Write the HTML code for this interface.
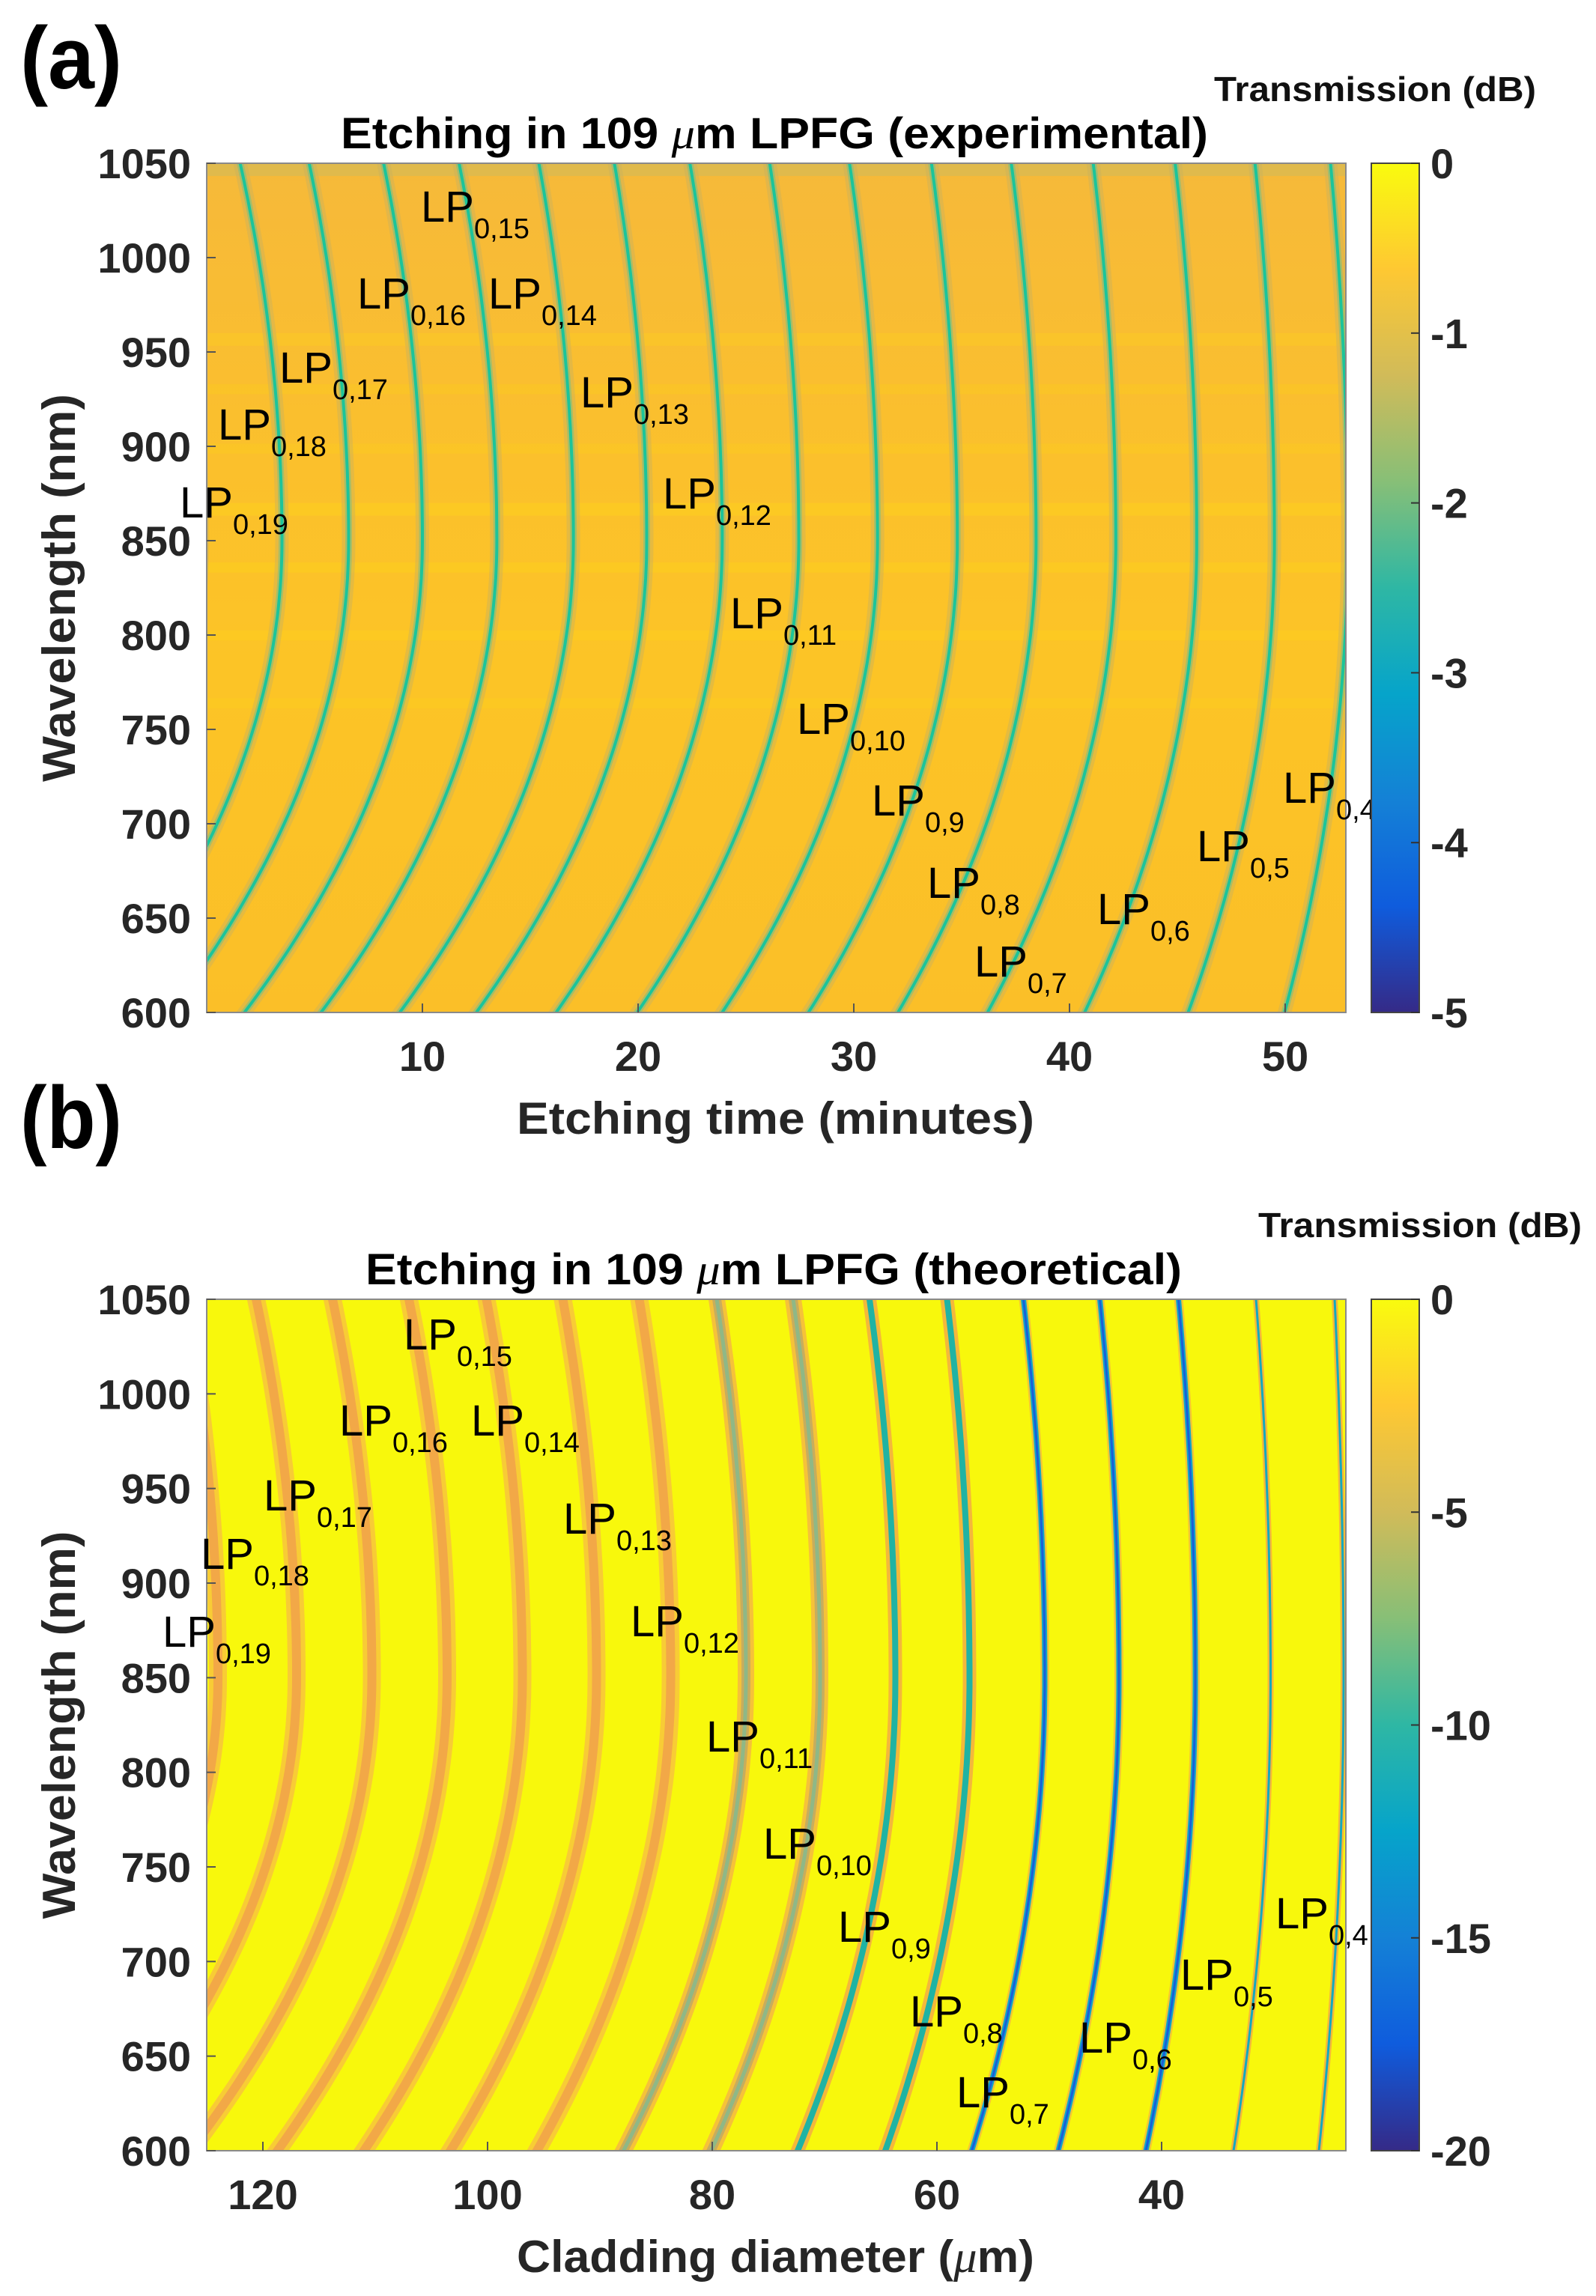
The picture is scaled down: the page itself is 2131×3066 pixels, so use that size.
<!DOCTYPE html>
<html><head><meta charset="utf-8">
<style>
html,body{margin:0;padding:0;background:#fff;}
svg{display:block;font-family:"Liberation Sans",sans-serif;}
.tk{font-weight:bold;font-size:56px;fill:#262626;}
.lp{font-size:58px;fill:#000;}
.lps{font-size:38px;}
</style></head>
<body>
<svg id="fig" width="2131" height="3066" viewBox="0 0 2131 3066" xmlns="http://www.w3.org/2000/svg">
<defs>
<linearGradient id="parula" x1="0" y1="1" x2="0" y2="0">
<stop offset="0" stop-color="#352A87"/><stop offset="0.125" stop-color="#0F5CDD"/>
<stop offset="0.25" stop-color="#1481D6"/><stop offset="0.375" stop-color="#06A4CA"/>
<stop offset="0.5" stop-color="#2EB7A4"/><stop offset="0.625" stop-color="#87BF77"/>
<stop offset="0.75" stop-color="#D1BB59"/><stop offset="0.875" stop-color="#FEC832"/>
<stop offset="1" stop-color="#F9FB0E"/>
</linearGradient>
<clipPath id="clipA"><rect x="276" y="218" width="1521" height="1134"/></clipPath>
<clipPath id="clipB"><rect x="276" y="1735" width="1521" height="1137"/></clipPath>
<linearGradient id="bgA" x1="0" y1="0" x2="0" y2="1">
<stop offset="0" stop-color="#f6b93a"/><stop offset="0.35" stop-color="#fbc02c"/>
<stop offset="0.6" stop-color="#fcc426"/><stop offset="1" stop-color="#fbbf28"/>
</linearGradient>
</defs>

<text x="27" y="118" font-size="118" font-weight="bold" textLength="136" lengthAdjust="spacingAndGlyphs">(a)</text>
<text x="27" y="1533" font-size="118" font-weight="bold" textLength="136" lengthAdjust="spacingAndGlyphs">(b)</text>

<g id="panelA"></g>
<g id="panelB"></g>
</svg>
<script>
// ---------- Data ----------
// Panel (a): etching time (minutes) of each resonance curve at 1050 nm (top), 850 nm (turning point) and 600 nm (bottom)
const aTop = [-1.9, 1.55, 4.75, 8.2, 11.7, 15.4, 18.9, 22.4, 26.1, 29.8, 33.6, 37.3, 41.1, 44.9, 48.6, 52.1];
const aMid = [-0.2, 3.49, 6.58, 10.0, 13.45, 17.0, 20.4, 23.9, 27.45, 31.1, 34.8, 38.45, 42.15, 45.9, 49.5, 52.9];
const aBot = [-8.6, -4.86, -1.72, 1.75, 5.3, 8.95, 12.5, 16.2, 19.96, 23.9, 27.9, 32.05, 36.2, 40.7, 45.5, 49.97];
// Panel (b): cladding diameter (um) of each curve at 1050, 850, 600 nm
const bTop = [127.0, 120.6, 113.8, 107.0, 100.1, 93.3, 86.5, 79.6, 72.8, 66.0, 59.1, 52.3, 45.5, 38.5, 31.6, 24.6];
const bMid = [124.0, 117.0, 110.3, 103.6, 96.9, 90.3, 83.7, 77.0, 70.4, 63.7, 57.1, 50.4, 43.8, 37.0, 30.3, 23.8];
const bBot = [142.0, 134.2, 126.5, 118.7, 111.0, 103.3, 95.6, 87.9, 80.1, 72.4, 64.6, 56.9, 49.2, 41.4, 33.6, 26.0];
const yTicks = [600, 650, 700, 750, 800, 850, 900, 950, 1000, 1050];
const aXTicks = [10, 20, 30, 40, 50];
const bXTicks = [120, 100, 80, 60, 40];
const aCbTicks = [0, -1, -2, -3, -4, -5];
const bCbTicks = [0, -5, -10, -15, -20];
const labNames = ['15','16','14','17','18','13','19','12','11','10','9','4','5','8','6','7'];
// annotation layout (pixel positions of the text labels)
const labPosA = [[562,275],[477,391],[652,391],[373,490],[291,566],[775,523],[240,670],[885,658],[975,818],[1064,959],[1164,1068],[1713,1051],[1598,1129],[1238,1178],[1465,1213],[1301,1283]];
const labPosB = [[539,1781],[453,1896],[629,1896],[352,1996],[268,2074],[752,2027],[217,2178],[842,2164],[943,2318],[1019,2461],[1119,2572],[1703,2554],[1576,2636],[1215,2685],[1441,2720],[1277,2793]];

const NS = 'http://www.w3.org/2000/svg';
function el(tag, attrs, parent){const e=document.createElementNS(NS,tag);for(const k in attrs)e.setAttribute(k,attrs[k]);parent.appendChild(e);return e;}

function curveVal(top, mid, bot, w){
  if (w >= 850) { const s=(w-850)/200; return mid+(top-mid)*s*s; }
  const s=(850-w)/250; return mid+(bot-mid)*s*s;
}

function buildPanel(cfg){
  const g = document.getElementById(cfg.id);
  const yOf = w => cfg.y0 + (1050-w)/450*(cfg.y1-cfg.y0);
  const xOf = cfg.xOf;
  const bg = el('rect',{x:276,y:cfg.y0,width:1521,height:cfg.y1-cfg.y0,fill:cfg.bg},g);
  
  
  const cg = el('g',{'clip-path':'url(#'+cfg.clip+')'},g);
  if (cfg.stripes) {
    const st=[[0.0,0.015,'#b8bd70',0.35],[0.2,0.015,'#fdd21c',0.35],[0.26,0.012,'#fdd21c',0.3],[0.33,0.012,'#fdd21c',0.3],[0.4,0.015,'#fed51a',0.4],[0.47,0.012,'#fed51a',0.4],[0.55,0.012,'#fed51a',0.35],[0.63,0.012,'#fdd21c',0.3]];
    st.forEach(s=>{el('rect',{x:276,y:cfg.y0+s[0]*(cfg.y1-cfg.y0),width:1521,height:s[1]*(cfg.y1-cfg.y0),fill:s[2],opacity:s[3]},cg);});
  }
  for (let i=0;i<cfg.top.length;i++){
    let pts=[];
    for (let w=595; w<=1055; w+=5){
      pts.push(xOf(curveVal(cfg.top[i],cfg.mid[i],cfg.bot[i],w)).toFixed(1)+','+yOf(w).toFixed(1));
    }
    const st = cfg.style(i);
    const gc = el('g',{},cg);
    
    
    st.forEach(s=>{el('polyline',{points:pts.join(' '),fill:'none',stroke:s[0],'stroke-width':s[1],opacity:s[2]},gc);});
  }
  el('rect',{x:276,y:cfg.y0,width:1521,height:cfg.y1-cfg.y0,fill:'none',stroke:'#8a8a8a','stroke-width':2},g);
  yTicks.forEach(v=>{
    const t=el('text',{x:255,y:yOf(v)+20,'text-anchor':'end',class:'tk'},g);
    t.textContent=v;
    
    
    el('line',{x1:276,x2:288,y1:yOf(v),y2:yOf(v),stroke:'#555','stroke-width':2},g);
  });
  cfg.xTicks.forEach(v=>{
    const t=el('text',{x:xOf(v),y:cfg.y1+78,'text-anchor':'middle',class:'tk'},g);
    t.textContent=v;
    
    
    el('line',{x1:xOf(v),x2:xOf(v),y1:cfg.y1,y2:cfg.y1-12,stroke:'#555','stroke-width':2},g);
  });
  for (let i=0;i<cfg.labPos.length;i++){
    const t=el('text',{x:cfg.labPos[i][0],y:cfg.labPos[i][1]+21,class:'lp'},g);
    
    
    const a=el('tspan',{},t); a.textContent='LP';
    const b=el('tspan',{dy:22,class:'lps'},t); b.textContent='0,'+labNames[i];
  }
  const ti=el('text',{x:cfg.titleX,y:cfg.y0-20,'font-size':58,'font-weight':'bold',textLength:cfg.titleW,lengthAdjust:'spacingAndGlyphs'},g);
  
  
  const t1=el('tspan',{},ti); t1.textContent='Etching in 109 ';
  const t2=el('tspan',{'font-style':'italic','font-weight':'normal','font-family':'Liberation Serif, serif'},ti); t2.textContent='μ';
  const t3=el('tspan',{},ti); t3.textContent='m LPFG ('+cfg.kind+')';
  const xl=el('text',{x:690,y:cfg.y1+162,'font-size':60,'font-weight':'bold',fill:'#262626',textLength:691,lengthAdjust:'spacingAndGlyphs'},g);
  
  
  if (cfg.kind==='experimental'){ xl.textContent='Etching time (minutes)'; }
  else { const a=el('tspan',{},xl);a.textContent='Cladding diameter (';const b=el('tspan',{'font-style':'italic','font-weight':'normal','font-family':'Liberation Serif, serif'},xl);b.textContent='μ';const c=el('tspan',{},xl);c.textContent='m)'; }
  const yc=(cfg.y0+cfg.y1)/2;
  const yl=el('text',{x:0,y:0,'font-size':62,'font-weight':'bold',fill:'#262626','text-anchor':'middle',transform:'translate(100,'+yc+') rotate(-90)',textLength:518,lengthAdjust:'spacingAndGlyphs'},g);
  yl.textContent='Wavelength (nm)';
  
  
  const cb=el('rect',{x:1831,y:cfg.y0,width:64,height:cfg.y1-cfg.y0,fill:'url(#parula)',stroke:'#444','stroke-width':2},g);
  
  
  const mn=cfg.cb[cfg.cb.length-1];
  cfg.cb.forEach(v=>{
    const yy=cfg.y0+(v/mn)*(cfg.y1-cfg.y0);
    el('line',{x1:1884,x2:1895,y1:yy,y2:yy,stroke:'#333','stroke-width':2},g);
    const t=el('text',{x:1910,y:yy+20,class:'tk'},g);
    t.textContent=v;
    
    
  });
  const ct=el('text',{x:cfg.cbTitleX,y:cfg.y0-83,'font-size':46,'font-weight':'bold',fill:'#111',textLength:cfg.cbTitleW,lengthAdjust:'spacingAndGlyphs'},g);
  ct.textContent='Transmission (dB)';
  
  
}

const aX = t => 276 + t*28.8;
const bX = d => 276 + (125-d)*15;

buildPanel({id:'panelA',clip:'clipA',y0:218,y1:1352,xOf:aX,top:aTop,mid:aMid,bot:aBot,
  xTicks:aXTicks,labPos:labPosA,cb:aCbTicks,bg:'url(#bgA)',stripes:true,
  kind:'experimental',titleX:455,titleW:1158,cbTitleX:1621,cbTitleW:430,
  style:(i)=>[['#c9b25e',18,0.45],['#7cbf82',9,0.6],['#1cc49a',4,1]]});
buildPanel({id:'panelB',clip:'clipB',y0:1735,y1:2872,xOf:bX,top:bTop,mid:bMid,bot:bBot,
  xTicks:bXTicks,labPos:labPosB,cb:bCbTicks,bg:'#f8f80c',stripes:false,
  kind:'theoretical',titleX:488,titleW:1090,cbTitleX:1680,cbTitleW:432,
  style:(i)=>{
    if(i<7) return [['#f7c63a',24,0.9],['#f2a847',12,1]];
    if(i<9) return [['#f5bb3e',22,0.9],['#c8ad5c',12,1],['#8fb886',5,1]];
    if(i<11) return [['#f3b040',18,0.9],['#20b3a3',8,1]];
    if(i<14) return [['#f3c03a',12,0.9],['#12a6c8',7,1],['#1a5fd8',3,1]];
    return [['#f3b040',8,0.9],['#14a8c0',3,1]];
  }});
</script>
</body></html>
